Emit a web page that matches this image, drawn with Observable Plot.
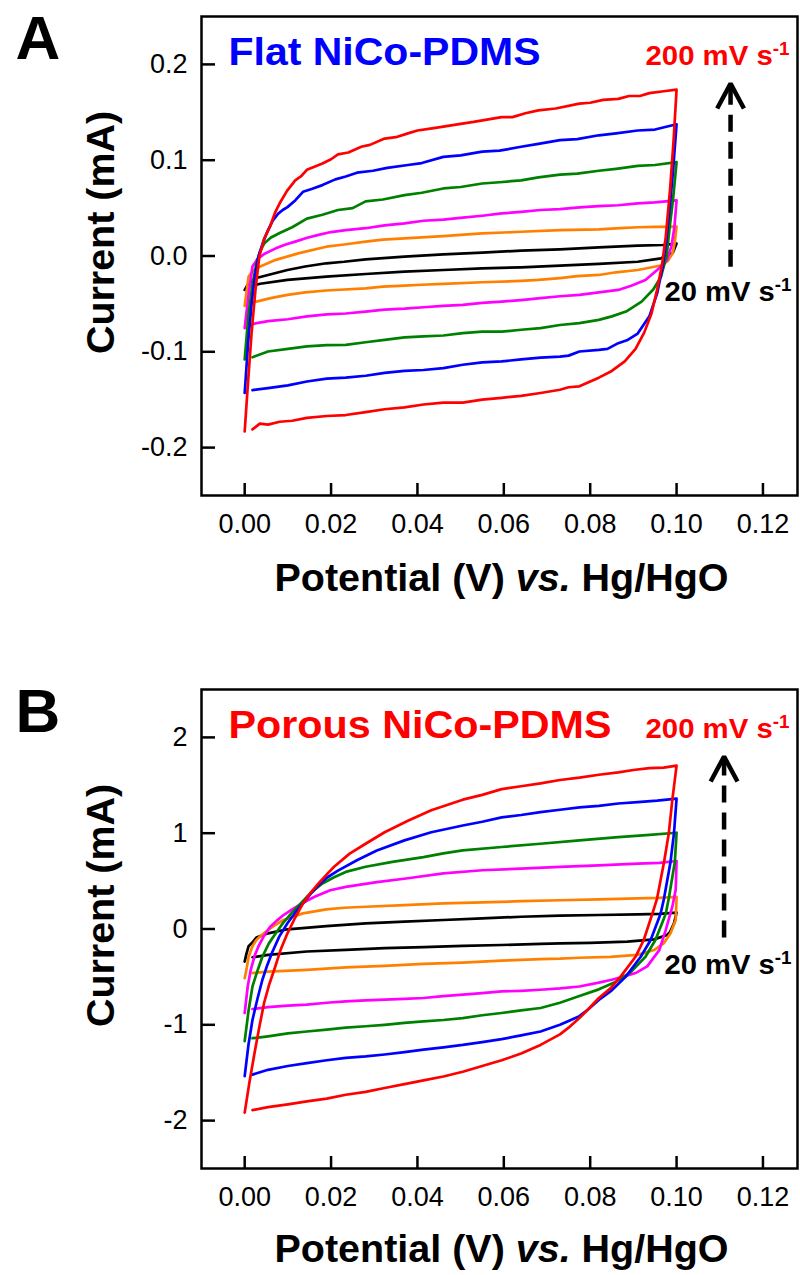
<!DOCTYPE html>
<html>
<head>
<meta charset="utf-8">
<script src="https://cdn.jsdelivr.net/npm/d3@7"></script>
<script src="https://cdn.jsdelivr.net/npm/@observablehq/plot@0.6"></script>
<style>
  html, body { margin: 0; padding: 0; background: #fff; }
  #chart { width: 800px; }
  #chart svg { display: block; }
</style>
</head>
<body>
<div id="chart"></div>
<script>
// ---------- axis ticks ----------
const xTicks = [0, 0.02, 0.04, 0.06, 0.08, 0.10, 0.12];
const yTicksFlat = [-0.2, -0.1, 0, 0.1, 0.2];
const yTicksPorous = [-2, -1, 0, 1, 2];

// ---------- text ----------
const panelLetters = ["A", "B"];
const panelTitles = ["Flat NiCo-PDMS", "Porous NiCo-PDMS"];
const rateHigh = "200 mV s^-1^";
const rateLow = "20 mV s^-1^";
const xTitle = "Potential (V) _vs._ Hg/HgO";
const yTitle = "Current (mA)";

// ---------- series (scan rate order low -> high) ----------
const seriesNames = ["black", "orange", "magenta", "green", "blue", "red"];
const seriesColors = ["#000000", "#ff8000", "#ff00ff", "#008000", "#0000ff", "#ff0000"];

// Panel A: Flat NiCo-PDMS, [potential V, current mA]
const flatBlack = [[0,-0.0354],[0.0009,-0.0285],[0.0027,-0.023],[0.0054,-0.0198],[0.0099,-0.0146],[0.014,-0.011],[0.0189,-0.0076],[0.023,-0.006],[0.028,-0.0035],[0.037,-0.0007],[0.046,0.0017],[0.055,0.0035],[0.064,0.0056],[0.073,0.007],[0.082,0.009],[0.091,0.0108],[0.0968,0.0115],[0.1,0.013],
  [0.0991,0.003],[0.0964,-0.0024],[0.091,-0.006],[0.082,-0.0083],[0.073,-0.010],[0.064,-0.0118],[0.055,-0.013],[0.046,-0.0146],[0.037,-0.0163],[0.028,-0.0188],[0.0189,-0.0215],[0.0099,-0.025],[0.0036,-0.029],[0.0018,-0.031]];
const flatOrange = [[0,-0.052],[0.0005,-0.035],[0.0009,-0.0215],[0.002,-0.015],[0.0036,-0.011],[0.0072,-0.004],[0.0126,0.003],[0.0189,0.0097],[0.023,0.012],[0.028,0.015],[0.032,0.017],[0.037,0.0184],[0.046,0.0208],[0.050,0.022],[0.055,0.0236],[0.064,0.0253],[0.073,0.027],[0.082,0.0278],[0.087,0.029],[0.091,0.030],[0.095,0.0305],[0.1,0.0306],
  [0.0996,0.015],[0.0991,0.003],[0.098,-0.005],[0.0968,-0.0094],[0.094,-0.012],[0.091,-0.0146],[0.086,-0.017],[0.082,-0.0198],[0.077,-0.021],[0.073,-0.023],[0.068,-0.025],[0.064,-0.026],[0.055,-0.0274],[0.046,-0.029],[0.041,-0.030],[0.037,-0.031],[0.032,-0.032],[0.028,-0.0337],[0.0189,-0.036],[0.014,-0.038],[0.0099,-0.0406],[0.006,-0.044],[0.0027,-0.0476],[0.0018,-0.0486]];
const flatMagenta = [[0,-0.0753],[0.0009,-0.04],[0.0018,-0.011],[0.003,-0.003],[0.0045,0.002],[0.0072,0.008],[0.0095,0.012],[0.0117,0.015],[0.0145,0.019],[0.0171,0.022],[0.020,0.025],[0.0234,0.027],[0.028,0.029],[0.0324,0.032],[0.037,0.034],[0.0414,0.0368],[0.046,0.038],[0.0505,0.040],[0.055,0.042],[0.0595,0.0444],[0.064,0.046],[0.0685,0.048],[0.073,0.049],[0.0775,0.0507],[0.082,0.052],[0.0865,0.053],[0.091,0.055],[0.095,0.056],[0.1,0.058],
  [0.0995,0.03],[0.0988,0.01],[0.0978,-0.004],[0.0966,-0.01],[0.0955,-0.0146],[0.0928,-0.025],[0.0895,-0.031],[0.0865,-0.0354],[0.082,-0.038],[0.0775,-0.0406],[0.073,-0.042],[0.0685,-0.044],[0.064,-0.046],[0.0595,-0.0476],[0.055,-0.049],[0.0505,-0.051],[0.046,-0.052],[0.0414,-0.0535],[0.037,-0.055],[0.0324,-0.056],[0.028,-0.058],[0.0234,-0.060],[0.019,-0.061],[0.0144,-0.063],[0.010,-0.066],[0.0054,-0.068],[0.0018,-0.071]];
const flatGreen = [[0,-0.108],[0.0009,-0.06],[0.0018,-0.03],[0.0027,-0.008],[0.0036,0.005],[0.0045,0.013],[0.006,0.019],[0.0081,0.024],[0.011,0.030],[0.0144,0.039],[0.018,0.043],[0.0216,0.048],[0.025,0.050],[0.028,0.057],[0.032,0.059],[0.037,0.0635],[0.041,0.066],[0.046,0.0705],[0.050,0.072],[0.055,0.0757],[0.059,0.077],[0.064,0.079],[0.068,0.082],[0.073,0.085],[0.077,0.086],[0.082,0.089],[0.086,0.091],[0.091,0.094],[0.095,0.095],[0.1,0.098],
  [0.0992,0.06],[0.0984,0.03],[0.0977,0.0],[0.0964,-0.0215],[0.0946,-0.035],[0.0919,-0.0476],[0.0883,-0.058],[0.085,-0.063],[0.082,-0.0667],[0.0775,-0.070],[0.073,-0.072],[0.0685,-0.0753],[0.064,-0.077],[0.0595,-0.079],[0.055,-0.079],[0.0505,-0.0806],[0.046,-0.083],[0.0414,-0.084],[0.037,-0.085],[0.0324,-0.0875],[0.028,-0.090],[0.0234,-0.0927],[0.019,-0.093],[0.0144,-0.0944],[0.010,-0.097],[0.0054,-0.0997],[0.0018,-0.1056]];
const flatBlue = [[0,-0.143],[0.0008,-0.09],[0.0016,-0.05],[0.0024,-0.02],[0.0032,0.0],[0.0043,0.015],[0.0054,0.027],[0.0065,0.037],[0.0077,0.044],[0.0088,0.048],[0.0099,0.051],[0.0117,0.058],[0.0135,0.067],[0.0155,0.070],[0.018,0.074],[0.021,0.080],[0.0234,0.083],[0.026,0.087],[0.0297,0.089],[0.033,0.092],[0.0378,0.095],[0.041,0.097],[0.046,0.1035],[0.050,0.105],[0.055,0.109],[0.059,0.110],[0.064,0.114],[0.068,0.117],[0.073,0.121],[0.077,0.122],[0.082,0.126],[0.086,0.128],[0.091,0.131],[0.095,0.132],[0.1,0.1375],
  [0.0992,0.09],[0.0984,0.05],[0.0976,0.015],[0.0968,-0.011],[0.0955,-0.039],[0.0937,-0.063],[0.091,-0.081],[0.0885,-0.088],[0.0865,-0.091],[0.084,-0.097],[0.082,-0.098],[0.0775,-0.0997],[0.075,-0.104],[0.073,-0.105],[0.0685,-0.106],[0.064,-0.108],[0.0595,-0.110],[0.055,-0.111],[0.0505,-0.1135],[0.046,-0.117],[0.0414,-0.119],[0.037,-0.120],[0.0324,-0.122],[0.028,-0.125],[0.0234,-0.127],[0.019,-0.128],[0.0144,-0.131],[0.010,-0.135],[0.0054,-0.138],[0.0018,-0.140]];
const flatRed = [[0,-0.183],[0.0008,-0.13],[0.0016,-0.08],[0.0025,-0.035],[0.0034,0.0],[0.0045,0.018],[0.0059,0.031],[0.007,0.045],[0.0081,0.055],[0.0098,0.068],[0.0117,0.079],[0.013,0.083],[0.0144,0.090],[0.016,0.093],[0.018,0.0965],[0.020,0.101],[0.0216,0.106],[0.024,0.108],[0.027,0.114],[0.029,0.116],[0.0324,0.1226],[0.035,0.124],[0.0378,0.128],[0.040,0.131],[0.043,0.133],[0.046,0.135],[0.050,0.138],[0.053,0.140],[0.0595,0.145],[0.062,0.145],[0.065,0.149],[0.068,0.152],[0.072,0.154],[0.0775,0.159],[0.080,0.160],[0.083,0.163],[0.0865,0.164],[0.089,0.167],[0.0915,0.167],[0.0937,0.170],[0.097,0.172],[0.1,0.1736],
  [0.0993,0.12],[0.0985,0.07],[0.0975,0.02],[0.0966,-0.01],[0.0955,-0.035],[0.0942,-0.06],[0.0925,-0.08],[0.0905,-0.097],[0.088,-0.11],[0.085,-0.12],[0.082,-0.127],[0.0775,-0.136],[0.075,-0.137],[0.073,-0.1396],[0.0685,-0.143],[0.064,-0.146],[0.0595,-0.148],[0.055,-0.150],[0.0505,-0.153],[0.046,-0.153],[0.0414,-0.155],[0.037,-0.158],[0.0324,-0.160],[0.028,-0.163],[0.0234,-0.166],[0.019,-0.167],[0.0144,-0.169],[0.011,-0.172],[0.0081,-0.173],[0.0054,-0.176],[0.0035,-0.175],[0.0018,-0.181]];

// Panel B: Porous NiCo-PDMS, [potential V, current mA]
const porousBlack = [[0,-0.34],[0.0004,-0.26],[0.0009,-0.18],[0.0018,-0.14],[0.0027,-0.09],[0.0054,-0.045],[0.0099,-0.003],[0.0189,0.031],[0.028,0.059],[0.037,0.076],[0.046,0.094],[0.055,0.111],[0.064,0.128],[0.073,0.139],[0.082,0.146],[0.091,0.152],[0.096,0.158],[0.1,0.17],
  [0.0994,0.059],[0.0985,-0.03],[0.0978,-0.0625],[0.0948,-0.108],[0.0886,-0.132],[0.08,-0.145],[0.0731,-0.15],[0.0685,-0.155],[0.0595,-0.167],[0.0505,-0.177],[0.0414,-0.19],[0.0324,-0.20],[0.0234,-0.218],[0.0144,-0.235],[0.0054,-0.27],[0.0018,-0.295]];
const porousOrange = [[0,-0.513],[0.0005,-0.40],[0.0009,-0.29],[0.0018,-0.18],[0.0027,-0.114],[0.004,-0.06],[0.0054,-0.01],[0.007,0.04],[0.009,0.094],[0.011,0.125],[0.0135,0.163],[0.0189,0.205],[0.023,0.222],[0.028,0.232],[0.037,0.25],[0.046,0.267],[0.055,0.277],[0.064,0.29],[0.073,0.30],[0.082,0.31],[0.091,0.32],[0.096,0.325],[0.1,0.336],
  [0.0999,0.2],[0.0998,0.094],[0.0986,-0.045],[0.097,-0.15],[0.0948,-0.22],[0.0909,-0.27],[0.0847,-0.29],[0.0775,-0.30],[0.073,-0.31],[0.0685,-0.315],[0.0595,-0.33],[0.0505,-0.35],[0.0414,-0.364],[0.0324,-0.385],[0.0234,-0.40],[0.0144,-0.426],[0.0054,-0.444],[0.0018,-0.46]];
const porousMagenta = [[0,-0.877],[0.0007,-0.60],[0.0014,-0.426],[0.0023,-0.28],[0.0032,-0.18],[0.0045,-0.07],[0.0059,0.024],[0.0075,0.09],[0.009,0.146],[0.0108,0.20],[0.0126,0.25],[0.0144,0.295],[0.0162,0.336],[0.0198,0.405],[0.0234,0.44],[0.0306,0.49],[0.0378,0.53],[0.046,0.58],[0.055,0.613],[0.064,0.63],[0.073,0.648],[0.082,0.665],[0.091,0.683],[0.096,0.69],[0.1,0.71],
  [0.0998,0.41],[0.099,0.23],[0.0975,-0.01],[0.096,-0.22],[0.0932,-0.39],[0.0905,-0.46],[0.0875,-0.50],[0.085,-0.53],[0.082,-0.56],[0.0775,-0.60],[0.073,-0.62],[0.0685,-0.634],[0.064,-0.645],[0.0595,-0.652],[0.055,-0.67],[0.0505,-0.686],[0.046,-0.70],[0.0414,-0.72],[0.037,-0.73],[0.0324,-0.738],[0.028,-0.745],[0.0234,-0.756],[0.019,-0.77],[0.0144,-0.79],[0.010,-0.80],[0.0054,-0.815],[0.0018,-0.835]];
const porousGreen = [[0,-1.17],[0.0009,-0.85],[0.0018,-0.60],[0.003,-0.43],[0.0041,-0.29],[0.0056,-0.15],[0.0072,-0.045],[0.009,0.07],[0.0108,0.163],[0.0126,0.25],[0.0144,0.336],[0.0162,0.41],[0.018,0.475],[0.0207,0.54],[0.0234,0.596],[0.028,0.65],[0.0342,0.70],[0.0414,0.75],[0.046,0.79],[0.0505,0.82],[0.0595,0.856],[0.0685,0.89],[0.0775,0.925],[0.0865,0.96],[0.093,0.98],[0.1,1.005],
  [0.0996,0.70],[0.0982,0.32],[0.0975,0.16],[0.0951,-0.115],[0.0928,-0.29],[0.0894,-0.45],[0.086,-0.55],[0.082,-0.63],[0.0775,-0.70],[0.073,-0.77],[0.0685,-0.825],[0.064,-0.85],[0.0595,-0.877],[0.055,-0.90],[0.0505,-0.93],[0.046,-0.95],[0.0414,-0.964],[0.037,-0.98],[0.0324,-1.0],[0.028,-1.015],[0.0234,-1.03],[0.019,-1.05],[0.0144,-1.07],[0.010,-1.09],[0.0054,-1.12],[0.0018,-1.14]];
const porousBlue = [[0,-1.535],[0.0009,-1.20],[0.0018,-0.95],[0.003,-0.72],[0.0041,-0.53],[0.0052,-0.38],[0.0063,-0.25],[0.008,-0.08],[0.0099,0.06],[0.0117,0.17],[0.0135,0.267],[0.0153,0.37],[0.0171,0.457],[0.019,0.535],[0.0216,0.61],[0.0261,0.72],[0.0306,0.82],[0.037,0.925],[0.0432,1.01],[0.0505,1.08],[0.055,1.12],[0.0595,1.165],[0.064,1.19],[0.0685,1.22],[0.073,1.245],[0.0775,1.27],[0.082,1.285],[0.0865,1.31],[0.091,1.325],[0.0955,1.34],[0.1,1.36],
  [0.0994,1.0],[0.0986,0.70],[0.0971,0.32],[0.0963,0.16],[0.094,-0.115],[0.0917,-0.29],[0.0882,-0.50],[0.085,-0.64],[0.082,-0.74],[0.0795,-0.84],[0.0775,-0.91],[0.075,-0.96],[0.073,-1.0],[0.0685,-1.07],[0.064,-1.11],[0.0595,-1.15],[0.055,-1.18],[0.0505,-1.21],[0.046,-1.235],[0.0414,-1.26],[0.037,-1.285],[0.0324,-1.31],[0.028,-1.33],[0.0234,-1.345],[0.019,-1.37],[0.0144,-1.40],[0.010,-1.43],[0.0054,-1.47],[0.0018,-1.52]];
const porousRed = [[0,-1.917],[0.0011,-1.60],[0.0023,-1.29],[0.0034,-1.02],[0.0045,-0.77],[0.0056,-0.59],[0.0068,-0.43],[0.0083,-0.22],[0.0099,-0.045],[0.0117,0.12],[0.0135,0.267],[0.0153,0.38],[0.0171,0.475],[0.019,0.57],[0.0207,0.65],[0.0243,0.787],[0.028,0.89],[0.0324,1.01],[0.0378,1.13],[0.0432,1.24],[0.0505,1.35],[0.055,1.40],[0.0595,1.46],[0.064,1.49],[0.0685,1.52],[0.073,1.555],[0.0775,1.58],[0.082,1.61],[0.0865,1.635],[0.09,1.66],[0.0937,1.68],[0.097,1.685],[0.1,1.705],
  [0.099,1.34],[0.0982,1.0],[0.0971,0.70],[0.0955,0.32],[0.0944,0.16],[0.0924,-0.115],[0.0905,-0.29],[0.087,-0.50],[0.0847,-0.62],[0.082,-0.72],[0.0795,-0.84],[0.0775,-0.93],[0.075,-1.03],[0.073,-1.10],[0.0685,-1.21],[0.064,-1.30],[0.0595,-1.37],[0.055,-1.43],[0.0505,-1.49],[0.046,-1.54],[0.0414,-1.58],[0.037,-1.62],[0.0324,-1.66],[0.028,-1.70],[0.0234,-1.73],[0.019,-1.77],[0.0144,-1.80],[0.010,-1.83],[0.0054,-1.86],[0.0018,-1.89]];

const flatCurves = [flatBlack, flatOrange, flatMagenta, flatGreen, flatBlue, flatRed];
const porousCurves = [porousBlack, porousOrange, porousMagenta, porousGreen, porousBlue, porousRed];

// scan-direction arrow annotations (data units)
const arrowFlat = {x: 0.1125, tip: 0.180, tail: -0.0118, halfW: 0.0031, headLen: 0.026};
const arrowPorous = {x: 0.111, tip: 1.80, tail: -0.094, halfW: 0.0031, headLen: 0.26};

// ---------- layout ----------
const FONT = "'Liberation Sans', Arial, Helvetica, sans-serif";
const textLengths = new Map([
  ["Flat NiCo-PDMS", 312], ["Porous NiCo-PDMS", 383],
  [rateHigh, 144], [rateLow, 127],
  [xTitle, 454], [yTitle, 243]
]);

function label(str, {dx, dy, size, weight = "bold", fill = "#000", anchor = "start", lineAnchor = "bottom", rotate = 0}) {
  return Plot.text([str], {
    text: d => d, frameAnchor: "top-left", dx, dy,
    fontSize: size, fontWeight: weight, fill, textAnchor: anchor, lineAnchor, rotate,
    fontFamily: FONT
  });
}

function panel({height, curves, yDomain, yTicks, yFormat, letter, title, titleColor, arrow, xTitleDy}) {
  const L = 201, T = 16, B = 495;
  const chevron = [[arrow.x - arrow.halfW, arrow.tip - arrow.headLen], [arrow.x, arrow.tip], [arrow.x + arrow.halfW, arrow.tip - arrow.headLen]];
  return Plot.plot({
    width: 800, height,
    marginTop: T, marginLeft: L, marginRight: 3, marginBottom: height - B,
    style: {fontFamily: FONT, fontSize: "27px", color: "#000", background: "transparent", overflow: "visible"},
    x: {domain: [-0.01, 0.128]},
    y: {domain: yDomain},
    marks: [
      Plot.axisX(xTicks, {tickSize: -12, tickPadding: 30, tickFormat: d => d.toFixed(2), strokeWidth: 2.5, label: null, fontSize: 27}),
      Plot.axisY(yTicks, {tickSize: -14, tickPadding: 28, tickFormat: yFormat, strokeWidth: 2.5, label: null, fontSize: 27}),
      ...curves.map((c, i) => Plot.line(c, {x: d => d[0], y: d => d[1], stroke: seriesColors[i], strokeWidth: 2.7, strokeLinejoin: "round"})),
      Plot.ruleX([arrow], {x: "x", y1: "tail", y2: d => d.tip - d.headLen * 0.15, stroke: "#000", strokeWidth: 4.5, strokeDasharray: "17,10"}),
      Plot.line(chevron, {x: d => d[0], y: d => d[1], stroke: "#000", strokeWidth: 4.5, strokeLinejoin: "miter", strokeLinecap: "butt"}),
      Plot.frame({stroke: "#000", strokeWidth: 2.5}),
      label(letter, {dx: 15 - L, dy: 58 - T, size: 62}),
      label(title, {dx: 228 - L, dy: 64 - T, size: 39, fill: titleColor}),
      label(rateHigh, {dx: 645 - L, dy: 64 - T, size: 28, fill: "#ff0000"}),
      label(rateLow, {dx: 664 - L, dy: 300 - T, size: 28, fill: "#000"}),
      label(xTitle, {dx: 501 - L, dy: xTitleDy - T, size: 38, anchor: "middle"}),
      label(yTitle, {dx: 101 - L, dy: 232 - T, size: 38, anchor: "middle", lineAnchor: "middle", rotate: -90})
    ]
  });
}

// rich text: ^sup^ and _italic_, plus stretched widths
function enrich(svg) {
  d3.select(svg).selectAll("text").each(function () {
    const raw = this.textContent;
    if (!textLengths.has(raw)) return;
    const re = /\^([^^]*)\^|_([^_]*)_/g;
    if (re.test(raw)) {
      re.lastIndex = 0;
      this.textContent = "";
      let last = 0, m;
      while ((m = re.exec(raw))) {
        if (m.index > last) this.appendChild(document.createTextNode(raw.slice(last, m.index)));
        const ts = document.createElementNS("http://www.w3.org/2000/svg", "tspan");
        if (m[1] != null) { ts.textContent = m[1]; ts.setAttribute("dy", "-10"); ts.setAttribute("font-size", "18px"); }
        else { ts.textContent = m[2]; ts.setAttribute("font-style", "italic"); }
        this.appendChild(ts);
        last = re.lastIndex;
      }
      if (last < raw.length) this.appendChild(document.createTextNode(raw.slice(last)));
    }
    this.setAttribute("textLength", textLengths.get(raw));
    this.setAttribute("lengthAdjust", "spacingAndGlyphs");
  });
  return svg;
}

const chart = document.getElementById("chart");
chart.appendChild(enrich(panel({
  height: 673, curves: flatCurves, yDomain: [-0.25, 0.25], yTicks: yTicksFlat,
  yFormat: d => d.toFixed(1), letter: panelLetters[0], title: panelTitles[0], titleColor: "#0000ff",
  arrow: arrowFlat, xTitleDy: 590
})));
chart.appendChild(enrich(panel({
  height: 602, curves: porousCurves, yDomain: [-2.5, 2.5], yTicks: yTicksPorous,
  yFormat: d => d.toFixed(0), letter: panelLetters[1], title: panelTitles[1], titleColor: "#ff0000",
  arrow: arrowPorous, xTitleDy: 588
})));
</script>
</body>
</html>
